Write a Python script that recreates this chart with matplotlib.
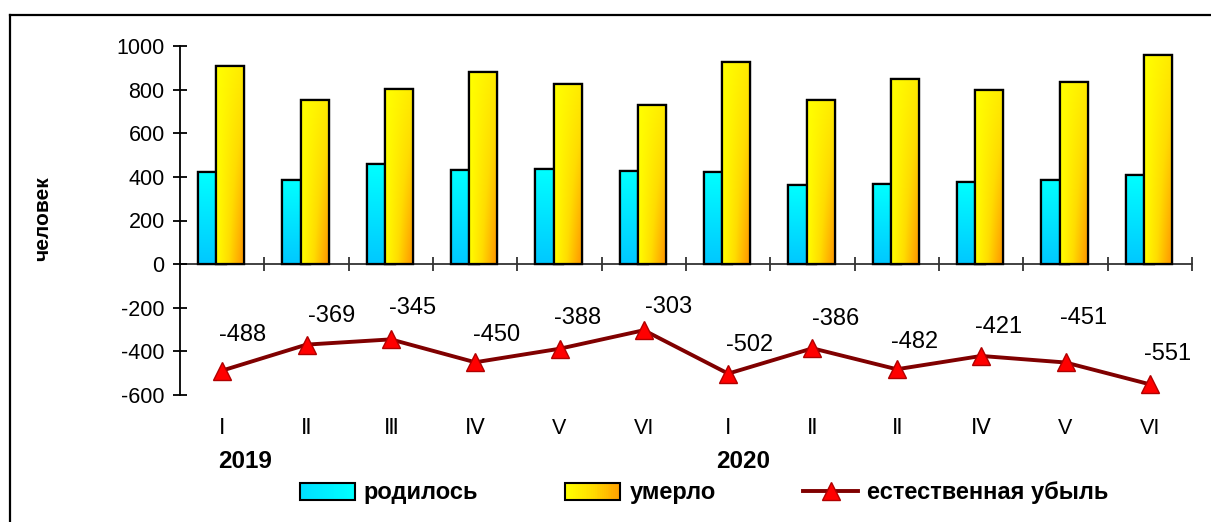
import numpy as np
import matplotlib
matplotlib.use('Agg')
import matplotlib.pyplot as plt
from matplotlib.patches import Rectangle
from matplotlib.lines import Line2D
from matplotlib.legend_handler import HandlerBase
from matplotlib.colors import LinearSegmentedColormap
import matplotlib.transforms as mtransforms

# ---------------- data ----------------
months = ['Ⅰ', 'Ⅱ', 'Ⅲ', 'Ⅳ', 'V', 'VI', 'Ⅰ', 'Ⅱ', 'Ⅱ', 'Ⅳ', 'V', 'VI']
years = ['2019', '2020']
year_pos = [0.27, 6.18]
born = [421, 385, 458, 432, 436, 428, 424, 365, 366, 377, 386, 410]
died = [909, 754, 803, 882, 824, 731, 926, 751, 848, 798, 837, 961]
decline = [-488, -369, -345, -450, -388, -303, -502, -386, -482, -421, -451, -551]
series_names = ['родилось', 'умерло', 'естественная убыль']
yticks = [-600, -400, -200, 0, 200, 400, 600, 800, 1000]

# label offsets (pixels)
lbl_dx = [20, 25, 22, 21, 18, 25, 21, 23, 18, 17, 18, 18]
lbl_dy = [36, 29, 31, 27, 31, 23, 29, 29, 27, 29, 44, 30]

FONT = ['Liberation Sans', 'DejaVu Sans']
plt.rcParams['font.family'] = FONT

W, H = 1211, 522
fig = plt.figure(figsize=(W / 100, H / 100), dpi=100)
ax = fig.add_axes([180 / W, 1 - 395 / H, (1192 - 180) / W, (395 - 46) / H])

cyan_cmap = LinearSegmentedColormap.from_list('cy', ['#00FFFF', '#00C8FF'])
yel_cmap = LinearSegmentedColormap.from_list('ye', ['#FFFF00', '#FFDC00', '#FFA000'])

x = np.arange(len(months))
bw = 0.332
b1 = ax.bar(x - 0.119, born, width=bw, color='#00E5FF', edgecolor='black',
            linewidth=1.6, zorder=2)
b2 = ax.bar(x + 0.095, died, width=bw, color='#FFD000', edgecolor='black',
            linewidth=1.6, zorder=4)


def add_gradient(bar, cmap, kind, z):
    x0, y0 = bar.get_xy()
    w, h = bar.get_width(), bar.get_height()
    n = 64
    xx, yy = np.meshgrid(np.linspace(0, 1, n), np.linspace(0, 1, n))  # yy 0 at top row
    if kind == 'v':
        Z = yy
    else:
        Z = np.clip(xx * (0.3 + 0.8 * yy), 0, 1)
    im = ax.imshow(Z, cmap=cmap, vmin=0, vmax=1, extent=(x0, x0 + w, y0, y0 + h),
                   origin='upper', aspect='auto', interpolation='bilinear', zorder=z)
    im.set_clip_path(bar)


for bar in b1:
    add_gradient(bar, cyan_cmap, 'v', 2.2)
for bar in b2:
    add_gradient(bar, yel_cmap, 'd', 4.2)
# edges on top
ax.bar(x - 0.119, born, width=bw, fill=False, edgecolor='black', linewidth=1.6, zorder=2.5)
ax.bar(x + 0.095, died, width=bw, fill=False, edgecolor='black', linewidth=1.6, zorder=4.5)

ax.plot(x, decline, color='#800000', lw=2.8, marker='^', ms=13, mfc='#FF0000',
        mec='#B00000', mew=1, zorder=6)
for i, v in enumerate(decline):
    ax.annotate(f'{v}', (x[i], v), xytext=(lbl_dx[i], lbl_dy[i]), textcoords='offset pixels',
                ha='center', va='center', fontsize=17, zorder=7)

ax.set_xlim(-0.5, len(months) - 0.5)
ax.set_ylim(-600, 1000)

for s in ['top', 'right']:
    ax.spines[s].set_visible(False)
ax.spines['left'].set_linewidth(1.3)
ax.spines['bottom'].set_position(('data', 0))
ax.spines['bottom'].set_linewidth(1.3)
ax.spines['bottom'].set_color('#333333')
ax.spines['bottom'].set_zorder(1)

ax.set_yticks(yticks)
ax.set_yticklabels([str(t) for t in yticks], fontsize=15.5)
ax.tick_params(axis='y', direction='inout', length=10, width=1.3, pad=6)
ax.set_xticks(np.arange(0.5, len(months), 1.0))
ax.set_xticklabels([])
ax.tick_params(axis='x', direction='inout', length=9.5, width=1.3, color='#333333')

trans = mtransforms.blended_transform_factory(ax.transData, ax.transAxes)
for i, m in enumerate(months):
    ax.text(x[i], (395 - 428) / 349, m, transform=trans, ha='center', va='center',
            fontsize=15.5, family=FONT)
for yp, yl in zip(year_pos, years):
    ax.text(yp, (395 - 461) / 349, yl, transform=trans, ha='center', va='center',
            fontsize=17.5, fontweight='bold')

fig.text(43 / W, 1 - 219 / H, 'человек', rotation=90, ha='center', va='center',
         fontsize=15, fontweight='bold')


class GradHandler(HandlerBase):
    def __init__(self, cmap, stops):
        super().__init__()
        self.cmap = cmap
        self.stops = stops

    def create_artists(self, legend, orig_handle, xdescent, ydescent, width, height,
                       fontsize, trans):
        arts = []
        n = 30
        for i in range(n):
            t = self.stops[0] + (self.stops[1] - self.stops[0]) * i / (n - 1)
            arts.append(Rectangle((-xdescent + width * i / n, -ydescent), width / n + 0.3,
                                  height, facecolor=self.cmap(t), edgecolor='none',
                                  transform=trans))
        arts.append(Rectangle((-xdescent, -ydescent), width, height, facecolor='none',
                              edgecolor='black', lw=1.5, transform=trans))
        return arts


h1 = Rectangle((0, 0), 1, 1, facecolor='#00E5FF')
h2 = Rectangle((0, 0), 1, 1, facecolor='#FFD000')
h3 = Line2D([], [], color='#800000', lw=2.8, marker='^', ms=13, mfc='#FF0000',
            mec='#B00000', mew=1)
fig.legend([h1, h2, h3], series_names, loc='center',
           bbox_to_anchor=(704 / W, 1 - 493 / H), bbox_transform=fig.transFigure,
           ncol=3, frameon=False, columnspacing=3.7, handlelength=2.33,
           handletextpad=0.38, borderpad=0,
           prop={'family': FONT, 'weight': 'bold', 'size': 17},
           handler_map={h1: GradHandler(cyan_cmap, (0.6, 0.0)),
                        h2: GradHandler(yel_cmap, (0.0, 1.0))})

# outer frame (left and top borders)
fig.add_artist(Line2D([10 / W, 10 / W], [0, 1 - 15 / H], transform=fig.transFigure,
                      color='black', lw=1.6))
fig.add_artist(Line2D([10 / W, 1], [1 - 15 / H, 1 - 15 / H], transform=fig.transFigure,
                      color='black', lw=1.6))

fig.savefig('out.png', dpi=100)
